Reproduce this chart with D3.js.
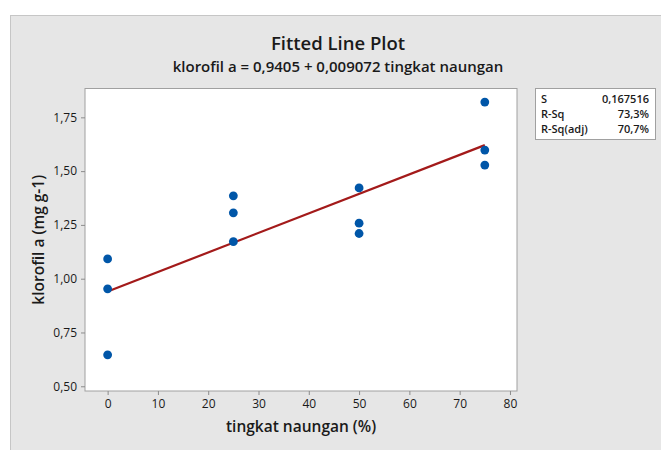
<!DOCTYPE html>
<html><head><meta charset="utf-8">
<script src="https://cdn.jsdelivr.net/npm/d3@7"></script>
<style>html,body{margin:0;padding:0;background:#fff;}svg{display:block;}text{font-family:"Open Sans","Noto Sans",sans-serif;fill:#1a1a1a;}</style>
</head><body><svg id="c" width="661" height="450"></svg>
<script>
// data
const shade = [0,0,0,25,25,25,50,50,50,75,75,75];
const klorofil = [1.092,0.953,0.646,1.385,1.306,1.172,1.422,1.258,1.21,1.821,1.598,1.528];
const xTicks = [0,10,20,30,40,50,60,70,80];
const yTicks = [0.5,0.75,1.0,1.25,1.5,1.75];
const fitCoef = [0.9405, 0.009072];
const fitX = [0, 75];
const statLabels = ["S","R-Sq","R-Sq(adj)"];
const statValues = ["0,167516","73,3%","70,7%"];

const svg = d3.select("#c");
svg.append("rect").attr("x",10.5).attr("y",15.5).attr("width",700).attr("height",500)
  .attr("fill","#e6e6e6").attr("stroke","#c6c6c6");

const L=85, R=517, T=88.5, B=391;
const x = d3.scaleLinear().domain([-4.5,81.4]).range([L,R]);
const y = d3.scaleLinear().domain([0.478,1.884]).range([B,T]);

svg.append("rect").attr("x",L).attr("y",T).attr("width",R-L).attr("height",B-T)
  .attr("fill","#fff").attr("stroke","#a0a0a0");

const fmt = d => d3.format(".2f")(d).replace(".",",");
const xa = svg.append("g").attr("transform",`translate(0,${B})`)
  .call(d3.axisBottom(x).tickValues(xTicks).tickSize(4).tickPadding(4));
const ya = svg.append("g").attr("transform",`translate(${L},0)`)
  .call(d3.axisLeft(y).tickValues(yTicks).tickFormat(fmt).tickSize(4).tickPadding(4));
[xa,ya].forEach(a=>{
  a.select(".domain").remove();
  a.selectAll(".tick line").attr("stroke","#8c8c8c");
  a.selectAll(".tick text").style("font-family","'Open Sans',sans-serif").style("font-size","12px").attr("fill","#1a1a1a");
});

const line = d3.line().x(d=>x(d)).y(d=>y(fitCoef[0]+fitCoef[1]*d));
svg.append("path").datum(fitX).attr("d",line).attr("fill","none").attr("stroke","#a31a1a").attr("stroke-width",2.2);

svg.selectAll("circle.p").data(shade.map((s,i)=>[s,klorofil[i]])).enter().append("circle")
  .attr("cx",d=>x(d[0])).attr("cy",d=>y(d[1])).attr("r",4.4).attr("fill","#0056a8");

svg.append("text").attr("x",338).attr("y",50).attr("text-anchor","middle")
  .style("font-size","18.5px").style("font-weight","600").text("Fitted Line Plot");
svg.append("text").attr("x",338).attr("y",72).attr("text-anchor","middle")
  .style("font-size","15px").style("font-weight","600").text("klorofil a = 0,9405 + 0,009072 tingkat naungan");

svg.append("text").attr("x",(L+R)/2).attr("y",432).attr("text-anchor","middle")
  .style("font-size","15.5px").style("font-weight","600").text("tingkat naungan (%)");
svg.append("text").attr("transform",`translate(44,${(T+B)/2}) rotate(-90)`).attr("text-anchor","middle")
  .style("font-size","15.5px").style("font-weight","600").text("klorofil a (mg g-1)");

svg.append("rect").attr("x",535.5).attr("y",88.5).attr("width",120).attr("height",51)
  .attr("fill","#fff").attr("stroke","#a0a0a0");
statLabels.forEach((s,i)=>{
  svg.append("text").attr("x",541).attr("y",103+i*15).style("font-size","11px").style("font-weight","600").text(s);
  svg.append("text").attr("x",649).attr("y",103+i*15).attr("text-anchor","end").style("font-size","11px").style("font-weight","600").text(statValues[i]);
});
</script></body></html>
